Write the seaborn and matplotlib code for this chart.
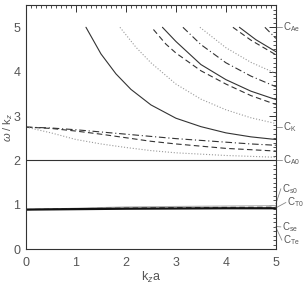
import numpy as np
import pandas as pd
import seaborn as sns
import matplotlib.pyplot as plt
from matplotlib.ticker import MultipleLocator

# Curve data: k_z a values and omega/k_z values
k_s1 = [1.2, 1.5, 1.8, 2.1, 2.5, 3.0, 3.5, 4.0, 4.5, 5.0]
v_s1 = [5.0, 4.4, 3.95, 3.6, 3.25, 2.95, 2.76, 2.62, 2.53, 2.47]

k_o1 = [1.88, 2.2, 2.5, 3.0, 3.5, 4.0, 4.5, 5.0]
v_o1 = [5.0, 4.55, 4.2, 3.72, 3.38, 3.14, 2.96, 2.83]

k_d1 = [2.55, 2.8, 3.0, 3.5, 4.0, 4.5, 5.0]
v_d1 = [4.95, 4.62, 4.42, 4.02, 3.72, 3.46, 3.26]

k_s2 = [2.73, 3.0, 3.5, 4.0, 4.5, 5.0]
v_s2 = [5.0, 4.68, 4.16, 3.82, 3.56, 3.37]

k_dd1 = [3.14, 3.5, 4.0, 4.5, 5.0]
v_dd1 = [5.0, 4.61, 4.2, 3.9, 3.66]

k_o2 = [3.48, 4.0, 4.5, 5.0]
v_o2 = [5.0, 4.54, 4.21, 3.96]

k_d2 = [4.14, 4.5, 5.0]
v_d2 = [5.0, 4.71, 4.38]

k_s3 = [4.27, 4.6, 5.0]
v_s3 = [5.0, 4.72, 4.45]

k_dd2 = [4.78, 5.0]
v_dd2 = [5.0, 4.75]

# lower branches starting at C_K
k_low = [0.0, 0.5, 1.0, 1.5, 2.0, 2.5, 3.0, 3.5, 4.0, 4.5, 5.0]
v_dd_low = [2.75, 2.73, 2.69, 2.64, 2.59, 2.54, 2.49, 2.45, 2.41, 2.37, 2.34]
v_d_low = [2.75, 2.72, 2.66, 2.59, 2.51, 2.43, 2.37, 2.32, 2.27, 2.24, 2.21]
v_o_low = [2.75, 2.62, 2.47, 2.37, 2.29, 2.22, 2.17, 2.14, 2.11, 2.09, 2.07]

# C_A0 line and slow branches near 1
k_flat = [0.0, 1.0, 2.0, 3.0, 4.0, 5.0]
v_a0 = [2.0, 2.0, 2.0, 2.0, 2.0, 2.0]
v_slow_black = [0.89, 0.90, 0.91, 0.915, 0.92, 0.92]
v_slow_dash = [0.89, 0.91, 0.925, 0.935, 0.94, 0.945]
v_slow_gray = [0.89, 0.92, 0.95, 0.96, 0.97, 0.98]

# right-hand labels
lab_text = ['$\\mathrm{C_{Ae}}$', '$\\mathrm{C_{K}}$', '$\\mathrm{C_{A0}}$',
            '$\\mathrm{C_{s0}}$', '$\\mathrm{C_{T0}}$', '$\\mathrm{C_{se}}$', '$\\mathrm{C_{Te}}$']
lab_from = [5.0, 2.76, 2.0, 1.02, 0.93, 0.51, 0.49]
lab_to = [5.0, 2.76, 2.0, 1.36, 1.05, 0.5, 0.2]
lab_x = [5.12, 5.12, 5.12, 5.1, 5.2, 5.1, 5.12]

sns.set_style('white')
plt.rcParams['font.family'] = ['Liberation Sans', 'DejaVu Sans']
plt.rcParams['mathtext.fontset'] = 'custom'
plt.rcParams['mathtext.rm'] = 'Liberation Sans'
plt.rcParams['mathtext.it'] = 'Liberation Sans:italic'

fig = plt.figure(figsize=(3.04, 2.84), dpi=100)
ax = fig.add_axes([0.0855, 0.123, 0.822, 0.859])

dark = '#333333'
light = '#9a9a9a'
lw = 0.8

curves = [
    (k_s1, v_s1, dark, '-'), (k_o1, v_o1, light, ':'), (k_d1, v_d1, dark, (0, (5, 3))),
    (k_s2, v_s2, dark, '-'), (k_dd1, v_dd1, dark, (0, (6, 2.5, 1, 2.5))),
    (k_o2, v_o2, light, ':'), (k_d2, v_d2, dark, (0, (5, 3))), (k_s3, v_s3, dark, '-'),
    (k_dd2, v_dd2, dark, (0, (6, 2.5, 1, 2.5))),
    (k_low, v_dd_low, dark, (0, (6, 2.5, 1, 2.5))), (k_low, v_d_low, dark, (0, (5, 3))),
    (k_low, v_o_low, light, ':'),
    (k_flat, v_a0, dark, '-'),
    (k_flat, v_slow_gray, '#b0b0b0', '-'), (k_flat, v_slow_dash, '#555555', (0, (5, 3))),
    (k_flat, v_slow_black, '#111111', '-'),
]
for kk, vv, col, ls in curves:
    sns.lineplot(x=kk, y=vv, color=col, linestyle=ls, linewidth=lw, ax=ax)
ax.lines[-1].set_linewidth(1.6)

# labels outside the right axis
for t, y0, y1, x1 in zip(lab_text, lab_from, lab_to, lab_x):
    ax.plot([5.0, x1], [y0, y1], color='#888888', lw=0.6, clip_on=False)
    ax.text(x1 + 0.03, y1, t, fontsize=7, color='#555555', va='center', ha='left')

ax.set_xlim(0, 5)
ax.set_ylim(0, 5.5)
ax.xaxis.set_major_locator(MultipleLocator(1))
ax.yaxis.set_major_locator(MultipleLocator(1))
ax.xaxis.set_minor_locator(MultipleLocator(0.1))
ax.yaxis.set_minor_locator(MultipleLocator(0.1))
ax.tick_params(which='both', direction='in', top=True, right=True, colors='#333333',
               labelcolor='#555555', labelsize=9)
ax.tick_params(which='major', length=5, width=0.7)
ax.tick_params(which='minor', length=2.5, width=0.6)
ax.tick_params(axis='x', pad=5.5)
ax.tick_params(axis='y', pad=4)
for s in ax.spines.values():
    s.set_color('#333333')
    s.set_linewidth(0.8)

ax.set_xlabel('k$_z$a', fontsize=9, color='#555555')
ax.set_ylabel('$\\omega$ / k$_z$', fontsize=8, color='#555555')
ax.xaxis.set_label_coords(0.5, -0.085)
ax.yaxis.set_label_coords(-0.045, 0.5)

fig.savefig('out.png', dpi=100)
